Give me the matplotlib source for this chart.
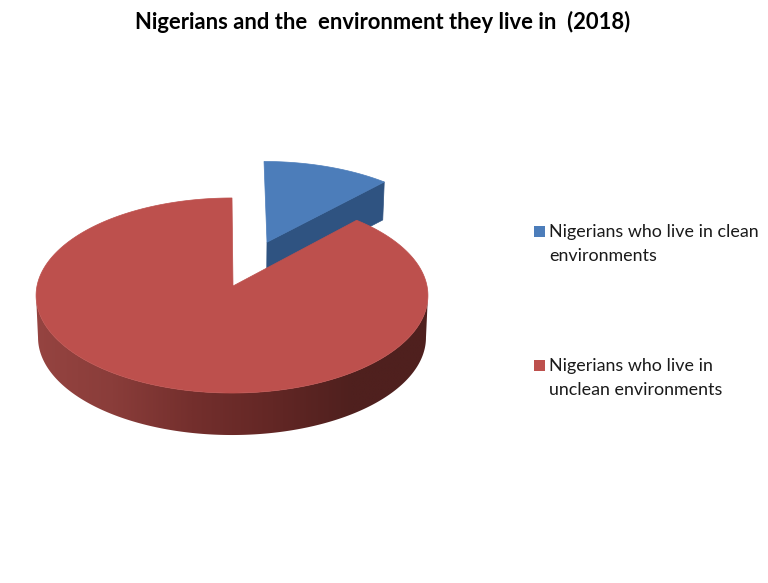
import numpy as np
import matplotlib
matplotlib.use("Agg")
import matplotlib.pyplot as plt
from matplotlib.patches import Polygon, Rectangle
from matplotlib.colors import LinearSegmentedColormap

title = "Nigerians and the  environment they live in  (2018)"
labels = ["Nigerians who live in clean\nenvironments",
          "Nigerians who live in\nunclean environments"]
shares = [12, 88]
top_colors = ["#4c7dba", "#bd504d"]
blue_side = "#2f5381"

# projection of the tilted disc onto the canvas (pixel space)
CX, CY, KX, KY, P = 232.0, 286.0, 195.0, 96.6, 0.0974
APEX_X = 233.0
EXPLODE = 0.51
RED_DEPTH, BLUE_DEPTH = 42.0, 38.0
BOTTOM_X = 0.99

def project(x, y, depth=0.0, xs=1.0):
    w = 1 + P * y
    return CX + xs * KX * x / w, CY - KY * y / w + depth

def arc(a0, a1, n=200):
    t = np.radians(np.linspace(a0, a1, n))
    return np.sin(t), np.cos(t)

fig = plt.figure(figsize=(7.68, 5.83), dpi=100, facecolor="white")
ax = fig.add_axes([0, 0, 1, 1])
ax.axis("off")

sweep = 360.0 * shares[0] / sum(shares)
mid = np.radians(sweep / 2)
ox, oy = EXPLODE * np.sin(mid), EXPLODE * np.cos(mid)

# blue slice: cut face, then top surface
tip_x, tip_y = ox + np.sin(np.radians(sweep)), oy + np.cos(np.radians(sweep))
ax1, ay1 = project(ox, oy)
ax2, ay2 = project(ox, oy, BLUE_DEPTH, BOTTOM_X)
tx1, ty1 = project(tip_x, tip_y)
tx2, ty2 = project(tip_x, tip_y, BLUE_DEPTH, BOTTOM_X)
ax.add_patch(Polygon([(ax1, ay1), (tx1, ty1), (tx2, ty2), (ax2, ay2)],
                     fc=blue_side, ec=blue_side, lw=0.5, zorder=1))
bx, by = arc(0, sweep)
px, py_ = project(ox + bx, oy + by)
ax.add_patch(Polygon(np.r_[[(ax1, ay1)], np.c_[px, py_]],
                     fc=top_colors[0], ec=top_colors[0], lw=0.5, zorder=2))

# red slice: shaded rim as a horizontal gradient clipped to the rim outline
wall = LinearSegmentedColormap.from_list(
    "wall", ["#964441", "#8a3d3a", "#742f2d", "#632725", "#4f201e", "#4f201e"])
tangent = np.degrees(np.arccos(-P))
sx, sy = arc(tangent, 360 - tangent, 300)
x1, y1 = project(sx, sy)
x2, y2 = project(sx, sy, RED_DEPTH, BOTTOM_X)
rim = Polygon(np.r_[np.c_[x1, y1], np.c_[x2, y2][::-1]],
              fc="none", ec="none", zorder=3)
ax.add_patch(rim)
grad = ax.imshow(np.linspace(0, 1, 400)[None, :], cmap=wall, aspect="auto",
                 extent=(CX - KX - 6, CX + KX + 6, 445, 280), zorder=3,
                 interpolation="bilinear")
grad.set_clip_path(rim)

rx, ry = arc(sweep, 360, 600)
px, py_ = project(rx, ry)
ax.add_patch(Polygon(np.r_[[(APEX_X, CY)], np.c_[px, py_]],
                     fc=top_colors[1], ec=top_colors[1], lw=0.5, zorder=4))

# title and legend
font = ["Lato", "DejaVu Sans"]
ax.text(383, 22, title, ha="center", va="center", fontsize=15.85,
        fontweight="bold", family=font, color="black")
for label, color, ypos in zip(labels, top_colors, [231, 365]):
    ax.add_patch(Rectangle((534, ypos - 5.5), 11, 11, fc=color, ec="none"))
    for i, line in enumerate(label.split("\n")):
        ax.text(549, ypos + 1 + 24 * i, line, ha="left", va="center",
                fontsize=12.9, family=font, color="#1a1a1a")

ax.set_xlim(0, 768)
ax.set_ylim(583, 0)
fig.savefig("out.png", dpi=100, facecolor="white")
